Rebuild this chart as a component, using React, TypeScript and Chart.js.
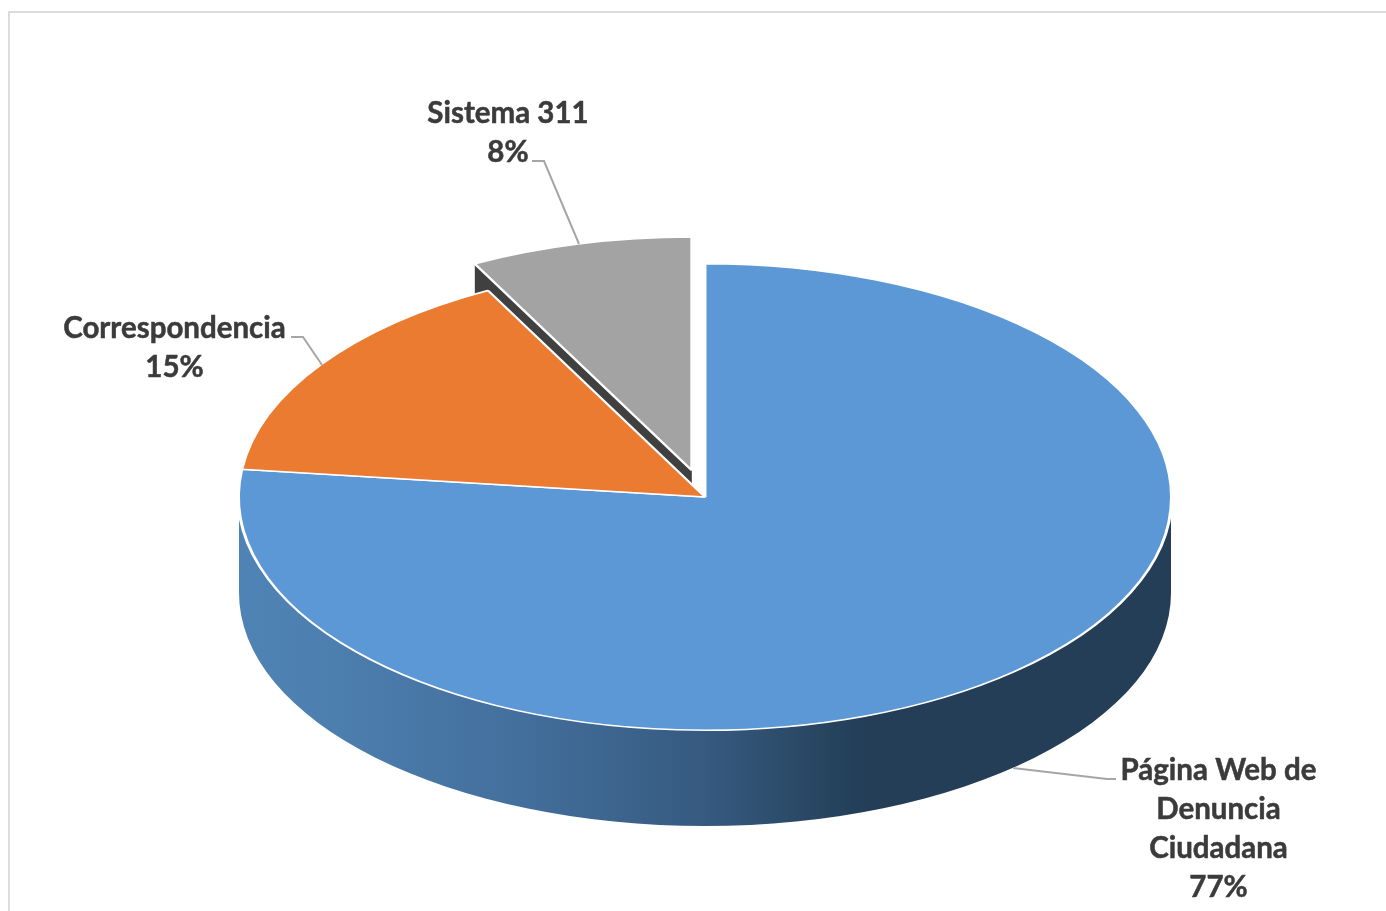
import React, { useEffect, useRef } from "react";
import { Chart, registerables } from "chart.js";

Chart.register(...registerables);

// ---- data ----
const categories = ["Página Web de Denuncia Ciudadana", "Correspondencia", "Sistema 311"];
const values = [76.9, 15.4, 7.7];
const labelLines = [["Página Web de", "Denuncia", "Ciudadana"], ["Correspondencia"], ["Sistema 311"]];

// ---- style ----
const colors = ["#5B98D5", "#EB7B30", "#A3A3A3"];
const explode = [0, 0, 55];
const FLATTEN = 0.5;
const DEPTH = 96;
const RADIUS = 466.5;
const FONT = "bold 29.5px Lato";
const LINE_H = 39;
const TEXT = "#3B3B3B";
const LEADER = "#A6A6A6";
const labelLayout = [
  { cx: 1218.5, top: 780, leader: [[1116, 779], [1107, 779], [1013, 768]] },
  { cx: 174.5, top: 338, leader: [[291, 337], [303, 337], [322, 365]] },
  { cx: 508, top: 123, leader: [[532, 161], [544, 161], [579, 244]] },
];

const pie3d = {
  id: "pie3d",
  afterDatasetUpdate(chart: any) {
    const meta = chart.getDatasetMeta(0);
    meta.data.forEach((el: any, i: number) => {
      const mid = (el.startAngle + el.endAngle) / 2;
      el.x += Math.cos(mid) * explode[i];
      el.y += Math.sin(mid) * explode[i];
    });
  },
  beforeDatasetsDraw(chart: any) {
    const ctx = chart.ctx;
    const meta = chart.getDatasetMeta(0);
    const first = meta.data[0];
    const cy = (chart.chartArea.top + chart.chartArea.bottom) / 2;
    const sy = (y: number) => cy + (y - cy) * FLATTEN;

    // cut wall of the exploded slice
    meta.data.forEach((el: any, i: number) => {
      if (!explode[i]) return;
      const ex = el.x + Math.cos(el.startAngle) * el.outerRadius;
      const ey = sy(el.y + Math.sin(el.startAngle) * el.outerRadius);
      ctx.save();
      ctx.fillStyle = "#404040";
      ctx.beginPath();
      ctx.moveTo(ex, ey);
      ctx.lineTo(el.x, sy(el.y));
      ctx.lineTo(el.x, sy(el.y) + DEPTH);
      ctx.lineTo(ex, ey + DEPTH);
      ctx.closePath();
      ctx.fill();
      ctx.restore();
    });

    // rim of the front part of the pie
    const R = first.outerRadius - 0.5;
    const grad = ctx.createLinearGradient(first.x - R, 0, first.x + R, 0);
    grad.addColorStop(0, "#4F83B5");
    grad.addColorStop(0.08, "#4D80B0");
    grad.addColorStop(0.3, "#436F9C");
    grad.addColorStop(0.5, "#365A80");
    grad.addColorStop(0.67, "#233E56");
    grad.addColorStop(1, "#233E56");
    ctx.save();
    ctx.fillStyle = grad;
    ctx.beginPath();
    ctx.ellipse(first.x, cy, R - 1, (R - 1) * FLATTEN, 0, 0, Math.PI);
    ctx.lineTo(first.x - R, cy + 18);
    ctx.lineTo(first.x - R, cy + DEPTH);
    ctx.ellipse(first.x, cy + DEPTH, R, R * FLATTEN, 0, Math.PI, 0, true);
    ctx.lineTo(first.x + R, cy + 18);
    ctx.closePath();
    ctx.fill();
    ctx.restore();

    // flatten the slices themselves
    ctx.save();
    ctx.translate(0, cy);
    ctx.scale(1, FLATTEN);
    ctx.translate(0, -cy);
  },
  afterDatasetsDraw(chart: any) {
    const ctx = chart.ctx;
    ctx.restore();

    ctx.save();
    ctx.font = FONT;
    ctx.textAlign = "center";
    ctx.textBaseline = "alphabetic";
    labelLayout.forEach((l, i) => {
      ctx.strokeStyle = LEADER;
      ctx.lineWidth = 2;
      ctx.beginPath();
      l.leader.forEach(([x, y], k) => (k ? ctx.lineTo(x, y) : ctx.moveTo(x, y)));
      ctx.stroke();
      const lines = [...labelLines[i], `${Math.round(values[i])}%`];
      ctx.fillStyle = TEXT;
      ctx.strokeStyle = TEXT;
      ctx.lineWidth = 0.5;
      lines.forEach((t, k) => {
        ctx.fillText(t, l.cx, l.top + k * LINE_H);
        ctx.strokeText(t, l.cx, l.top + k * LINE_H);
      });
    });
    ctx.restore();
  },
};

export default function App() {
  const ref = useRef<HTMLCanvasElement>(null);
  useEffect(() => {
    const chart = new Chart(ref.current!, {
      type: "pie",
      data: {
        labels: categories,
        datasets: [
          {
            data: values,
            backgroundColor: colors,
            borderColor: "#FFFFFF",
            borderWidth: 3,
            clip: false,
          } as any,
        ],
      },
      options: {
        responsive: false,
        animation: false,
        events: [],
        radius: RADIUS,
        layout: { padding: { left: 24, top: 83, right: 0, bottom: 0 } },
        plugins: { legend: { display: false }, tooltip: { enabled: false }, title: { display: false } },
      } as any,
      plugins: [pie3d],
    });
    return () => chart.destroy();
  }, []);
  return (
    <div style={{ position: "absolute", left: 0, top: 0, width: 1386, height: 911, overflow: "hidden", background: "#fff" }}>
      <canvas ref={ref} width={1386} height={911} style={{ display: "block", position: "absolute", left: 0, top: 0 }} />
      <div style={{ position: "absolute", left: 8, top: 11, right: 0, bottom: 0, borderLeft: "2px solid #DCDCDC", borderTop: "2px solid #DCDCDC" }} />
    </div>
  );
}
